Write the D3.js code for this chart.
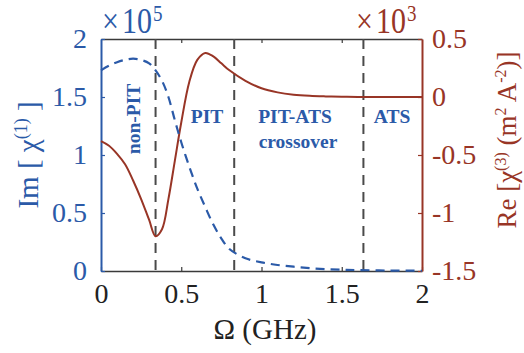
<!DOCTYPE html>
<html>
<head>
<meta charset="utf-8">
<script src="https://d3js.org/d3.v7.min.js"></script>
<style>
  body { margin: 0; background: #fff; }
  text { font-family: "Liberation Serif", "Times New Roman", serif; }
</style>
</head>
<body>
<div id="chart"></div>
<script>
// frequency grid (GHz)
const omega = [0, 0.05, 0.1, 0.15, 0.2, 0.25, 0.3, 0.34, 0.38, 0.42, 0.46, 0.5, 0.55, 0.6, 0.65,
               0.7, 0.75, 0.8, 0.9, 1.0, 1.1, 1.2, 1.3, 1.4, 1.5, 1.6, 1.8, 2.0];
// Im[chi(1)] in units of 1e5 (blue dashed, left axis)
const imChi1 = [1.73, 1.77, 1.80, 1.82, 1.83, 1.82, 1.79, 1.73, 1.64, 1.50, 1.30, 1.11, 0.90, 0.71, 0.55,
                0.40, 0.28, 0.19, 0.11, 0.075, 0.052, 0.037, 0.025, 0.016, 0.011, 0.008, 0.004, 0.002];
// Re[chi(3)] in units of 1e3 (red solid, right axis)
const reChi3 = [-0.38, -0.42, -0.49, -0.58, -0.72, -0.88, -1.06, -1.20, -1.14, -0.88, -0.55, -0.22, 0.13, 0.32, 0.38,
                0.35, 0.29, 0.23, 0.14, 0.075, 0.04, 0.02, 0.01, 0.005, 0.002, 0.001, 0, 0];
// regime boundaries (GHz)
const boundaries = [0.34, 0.83, 1.635];
const xTicks = [0, 0.5, 1, 1.5, 2];
const leftTicks = [0, 0.5, 1, 1.5, 2];
const rightTicks = [-1.5, -1, -0.5, 0, 0.5];

const W = 524, H = 353;
const margin = {top: 39, right: 102, bottom: 82, left: 101};
const width = W - margin.left - margin.right;
const height = H - margin.top - margin.bottom;

const blue = "#2b5aa8", red = "#983526", frame = "#3a3a3a";

const svg = d3.select("#chart").append("svg")
    .attr("width", W).attr("height", H);
const g = svg.append("g").attr("transform", `translate(${margin.left},${margin.top})`);

const x = d3.scaleLinear().domain([0, 2]).range([0, width]);
const yL = d3.scaleLinear().domain([0, 2]).range([height, 0]);
const yR = d3.scaleLinear().domain([-1.5, 0.5]).range([height, 0]);

const fmt = d => d === 0 ? "0" : String(d);

// bottom & top axes
const axB = g.append("g").attr("transform", `translate(0,${height})`)
    .call(d3.axisBottom(x).tickValues(xTicks).tickFormat(fmt).tickSizeInner(-4).tickSizeOuter(0).tickPadding(12));
axB.select(".domain").attr("stroke", frame).attr("stroke-width", 1.5);
axB.selectAll(".tick line").attr("stroke", frame).attr("stroke-width", 1.2);
axB.selectAll(".tick text").attr("fill", "#222").style("font-size", "28px");

const axT = g.append("g")
    .call(d3.axisTop(x).tickValues(xTicks.slice(1, -1)).tickFormat("").tickSizeInner(-4).tickSizeOuter(0));
axT.select(".domain").attr("stroke", frame).attr("stroke-width", 1.5);
axT.selectAll(".tick line").attr("stroke", frame).attr("stroke-width", 1.2);

// left axis
const axL = g.append("g")
    .call(d3.axisLeft(yL).tickValues(leftTicks).tickFormat(fmt).tickSizeInner(-4).tickSizeOuter(0).tickPadding(14));
axL.select(".domain").attr("stroke", blue).attr("stroke-width", 2);
axL.selectAll(".tick line").attr("stroke", blue).attr("stroke-width", 1.2);
axL.selectAll(".tick text").attr("fill", blue).style("font-size", "28px");

// right axis
const axR = g.append("g").attr("transform", `translate(${width},0)`)
    .call(d3.axisRight(yR).tickValues(rightTicks).tickFormat(fmt).tickSizeInner(-4).tickSizeOuter(0).tickPadding(10));
axR.select(".domain").attr("stroke", red).attr("stroke-width", 2);
axR.selectAll(".tick line").attr("stroke", red).attr("stroke-width", 1.2);
axR.selectAll(".tick text").attr("fill", red).style("font-size", "28px");

// regime boundaries
g.selectAll(".bound").data(boundaries).enter().append("line")
    .attr("x1", d => x(d)).attr("x2", d => x(d))
    .attr("y1", 0).attr("y2", height)
    .attr("stroke", "#4a4a4a").attr("stroke-width", 2)
    .attr("stroke-dasharray", "10,7");

const pts = omega.map((o, i) => ({o, im: imChi1[i], re: reChi3[i]}));

g.append("path").datum(pts)
    .attr("fill", "none").attr("stroke", red).attr("stroke-width", 2)
    .attr("d", d3.line().x(d => x(d.o)).y(d => yR(d.re)).curve(d3.curveCatmullRom.alpha(0.5)));

g.append("path").datum(pts)
    .attr("fill", "none").attr("stroke", blue).attr("stroke-width", 2.2)
    .attr("stroke-dasharray", "9,6")
    .attr("d", d3.line().x(d => x(d.o)).y(d => yL(d.im)).curve(d3.curveCatmullRom.alpha(0.5)));

// regime labels
const lab = (txt, cx, cy, rot) => {
  g.append("text")
    .attr("transform", `translate(${cx},${cy})` + (rot ? " rotate(-90)" : ""))
    .attr("text-anchor", "middle")
    .attr("fill", blue).style("font-size", "19.5px").style("font-weight", "bold")
    .text(txt);
};
lab("non-PIT", 140 - margin.left, 119 - margin.top, true);
lab("PIT", 207 - margin.left, 123 - margin.top);
lab("PIT-ATS", 295 - margin.left, 123 - margin.top);
lab("crossover", 298 - margin.left, 148 - margin.top);
lab("ATS", 392 - margin.left, 123 - margin.top);

// exponent labels
const expo = (base, sup, xx, yy, color) => {
  const t = svg.append("text").attr("transform", `translate(${xx},${yy}) scale(1,1.2)`)
    .attr("fill", color).style("font-size", "30px");
  t.append("tspan").text("\u00d7");
  t.append("tspan").attr("dx", 3).text(base);
  t.append("tspan").attr("dx", 1).attr("dy", -10).style("font-size", "19px").text(sup);
};
expo("10", "5", 102, 33, blue);
expo("10", "3", 356, 33, red);

// axis titles
svg.append("text").attr("x", 265).attr("y", 339).attr("text-anchor", "middle")
    .attr("fill", "#222").style("font-size", "29px").text("\u03a9 (GHz)");

const lt = svg.append("text").attr("transform", "translate(38,155) rotate(-90)")
    .attr("text-anchor", "middle").attr("fill", blue).style("font-size", "29px");
lt.append("tspan").text("Im [ \u03c7");
lt.append("tspan").attr("dy", -11).style("font-size", "18px").text("(1)");
lt.append("tspan").attr("dy", 11).text(" ]");

const rt = svg.append("text").attr("transform", "translate(516,140) rotate(-90)")
    .attr("text-anchor", "middle").attr("fill", red).style("font-size", "27px");
rt.append("tspan").text("Re [\u03c7");
rt.append("tspan").attr("dy", -10).style("font-size", "16px").text("(3)");
rt.append("tspan").attr("dy", 10).text(" (m");
rt.append("tspan").attr("dy", -10).style("font-size", "16px").text("2");
rt.append("tspan").attr("dy", 10).text(" A");
rt.append("tspan").attr("dy", -10).style("font-size", "16px").text("-2");
rt.append("tspan").attr("dy", 10).text(")]");
</script>
</body>
</html>
